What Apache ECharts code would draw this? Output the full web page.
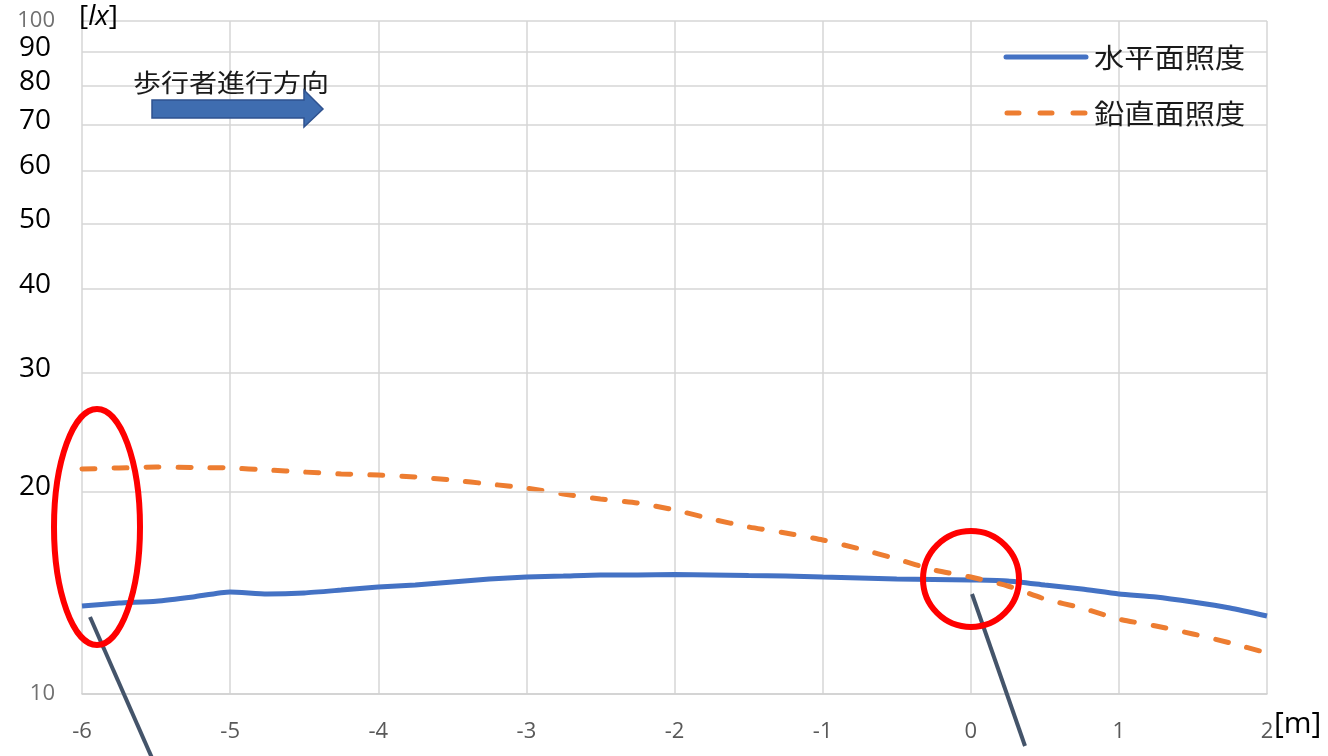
<!DOCTYPE html>
<html>
<head>
<meta charset="utf-8">
<script src="https://cdn.jsdelivr.net/npm/echarts@6/dist/echarts.min.js"></script>
<style>
html,body{margin:0;padding:0;background:#fff;}
#chart{width:1328px;height:756px;}
</style>
</head>
<body>
<div id="chart"></div>
<script>
// distance [m], step 0.25 from -6 to 2
const positions = [-6,-5.75,-5.5,-5.25,-5,-4.75,-4.5,-4.25,-4,-3.75,-3.5,-3.25,-3,-2.75,-2.5,-2.25,-2,-1.75,-1.5,-1.25,-1,-0.75,-0.5,-0.25,0,0.25,0.5,0.75,1,1.25,1.5,1.75,2];
// 水平面照度 [lx]
const horizontalLux = [13.51,13.65,13.74,13.94,14.18,14.08,14.13,14.27,14.42,14.52,14.67,14.82,14.92,14.97,15.03,15.03,15.05,15.03,15.00,14.97,14.92,14.87,14.82,14.80,14.77,14.72,14.52,14.32,14.08,13.94,13.70,13.42,13.06];
// 鉛直面照度 [lx]
const verticalLux = [21.59,21.67,21.74,21.70,21.67,21.52,21.37,21.23,21.15,21.01,20.79,20.51,20.23,19.82,19.49,19.22,18.77,18.20,17.71,17.35,16.94,16.43,15.87,15.29,14.92,14.47,13.84,13.42,12.92,12.62,12.28,11.91,11.51];
const seriesNames = ['水平面照度','鉛直面照度'];
const yGridValues = [20,30,40,50,60,70,80,90];

const FONT = '"Open Sans","Noto Sans CJK JP",sans-serif';
const JFONT = '"Noto Sans CJK JP","Noto Sans",sans-serif';
const BLUE = '#4472C4', ORANGE = '#ED7D31';

const chart = echarts.init(document.getElementById('chart'));
const zip = (xs, ys) => xs.map((x,i)=>[x, ys[i]]);

chart.setOption({
  animation: false,
  backgroundColor: '#fff',
  grid: {left: 82, right: 61, top: 21, bottom: 62},
  xAxis: {
    type: 'value', min: -6, max: 2, interval: 1,
    axisLine: {show: true, lineStyle: {color: '#d0d0d0', width: 1.5}},
    axisTick: {show: false},
    splitLine: {show: true, lineStyle: {color: '#d6d6d6', width: 1.5}},
    axisLabel: {color: '#595959', fontSize: 22, fontFamily: FONT, margin: 27}
  },
  yAxis: {
    type: 'log', logBase: 10, min: 10, max: 100,
    axisLine: {show: false},
    axisTick: {show: false},
    splitLine: {show: true, lineStyle: {color: '#d6d6d6', width: 1.5}},
    axisLabel: {color: '#707070', fontSize: 22, fontFamily: FONT, margin: 27}
  },
  series: [
    {
      name: 'grid', type: 'line', data: [], silent: true, z: 1,
      markLine: {
        silent: true, symbol: ['none','none'], animation: false,
        lineStyle: {color: '#d6d6d6', width: 1.5, type: 'solid'},
        label: {position: 'start', distance: 31, formatter: '{c}', fontSize: 28, color: '#000', fontFamily: FONT, offset: [0,-4]},
        emphasis: {disabled: true},
        data: yGridValues.map(v => ({yAxis: v}))
      }
    },
    {
      name: seriesNames[0], type: 'line', data: zip(positions, horizontalLux),
      showSymbol: false, symbol: 'none', z: 3, smooth: 0.2,
      lineStyle: {color: BLUE, width: 5},
      itemStyle: {color: BLUE}
    },
    {
      name: seriesNames[1], type: 'line', data: zip(positions, verticalLux),
      showSymbol: false, symbol: 'none', z: 3, smooth: 0.2,
      lineStyle: {color: ORANGE, width: 5, type: [13, 19], cap: 'round'},
      itemStyle: {color: ORANGE}
    }
  ],
  graphic: [
    {type: 'text', left: 79, top: 3, z: 10, style: {
      text: '[{i|lx}]', fontSize: 28, fontFamily: FONT, fill: '#000',
      rich: {i: {fontStyle: 'italic', fontSize: 28, fontFamily: FONT, fill: '#000'}}}},
    {type: 'text', left: 1274, top: 709, z: 10, style: {text: '[m]', fontSize: 30, fontFamily: FONT, fill: '#000'}},
    {type: 'text', x: 133, y: 82, z: 10, scaleX: 1.12, style: {text: '歩行者進行方向', fontSize: 25, fontFamily: JFONT, fill: '#1a1a1a', verticalAlign: 'middle'}},
    {type: 'polygon', z: 10, shape: {points: [[152,100],[304,100],[304,90],[323,109],[304,127],[304,118],[152,118]]},
      style: {fill: '#3F6DB0', stroke: '#2F528F', lineWidth: 1.5}},
    // legend
    {type: 'line', z: 10, shape: {x1: 1006, y1: 57, x2: 1086, y2: 57}, style: {stroke: BLUE, lineWidth: 5, lineCap: 'round'}},
    {type: 'text', x: 1094, y: 58, z: 10, scaleX: 1.12, style: {text: seriesNames[0], fontSize: 27, fontFamily: JFONT, fill: '#1a1a1a', verticalAlign: 'middle'}},
    {type: 'line', z: 10, shape: {x1: 1007, y1: 113, x2: 1086, y2: 113}, style: {stroke: ORANGE, lineWidth: 5, lineCap: 'round', lineDash: [12, 21]}},
    {type: 'text', x: 1094, y: 114, z: 10, scaleX: 1.12, style: {text: seriesNames[1], fontSize: 27, fontFamily: JFONT, fill: '#1a1a1a', verticalAlign: 'middle'}},
    // annotations
    {type: 'ellipse', z: 20, shape: {cx: 97, cy: 527, rx: 43, ry: 118}, style: {fill: 'none', stroke: '#FF0000', lineWidth: 6}},
    {type: 'circle', z: 20, shape: {cx: 971, cy: 579, r: 48}, style: {fill: 'none', stroke: '#FF0000', lineWidth: 6}},
    {type: 'line', z: 19, shape: {x1: 90, y1: 617, x2: 152, y2: 758}, style: {stroke: '#44546A', lineWidth: 4}},
    {type: 'line', z: 19, shape: {x1: 972, y1: 594, x2: 1025, y2: 746}, style: {stroke: '#44546A', lineWidth: 4}}
  ]
});
</script>
</body>
</html>
